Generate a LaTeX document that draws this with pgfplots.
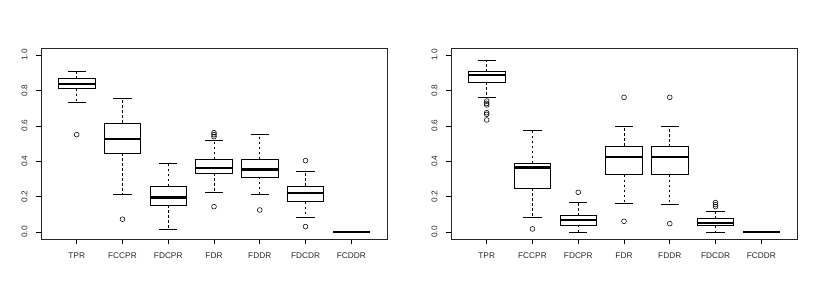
\documentclass[border=0pt]{standalone}
\usepackage{pgfplots}
\pgfplotsset{compat=1.18}
\usepgfplotslibrary{statistics}
\usepackage{fontspec}
\setmainfont{Liberation Sans}
\pgfplotsset{
  boxplot/draw/whisker/.code 2 args={%
    \draw[black, line width=0.6pt, dash pattern=on 2.5pt off 2.5pt] (boxplot cs:#1) -- (boxplot cs:#2);
    \draw[black, line width=0.6pt] (boxplot whisker cs:#2,0) -- (boxplot whisker cs:#2,1);
  },
}
\pgfplotsset{
  rbox/.style={
    width=346pt, height=191pt, scale only axis,
    anchor=south west,
    xmin=0.22, xmax=7.78, ymin=-0.04, ymax=1.04,
    xtick={1,2,3,4,5,6,7},
    xticklabels={TPR,FCCPR,FDCPR,FDR,FDDR,FDCDR,FCDDR},
    ytick={0,0.2,0.4,0.6,0.8,1.0},
    yticklabel style={rotate=90, anchor=south},
    y tick label style={/pgf/number format/fixed, /pgf/number format/fixed zerofill, /pgf/number format/precision=1},
    /pgf/number format/assume math mode=true,
    yticklabel shift=5pt,
    xticklabel shift=5pt,
    tick pos=left, tick align=outside,
    major tick length=5pt,
    tick style={black, line width=0.6pt},
    axis line style={black!85, line width=0.7pt},
    ticklabel style={font=\fontsize{8.3}{9}\selectfont, text=black!85},
    boxplot/draw direction=y,
    boxplot/box extend=0.8,
    boxplot/whisker extend=0.4,
    boxplot/every median/.style={line width=2.4pt, black},
    every axis plot/.append style={black, solid, line width=0.7pt, mark=o, mark size=2.4pt, mark options={solid, line width=0.55pt}},
  }
}
\begin{document}
\begin{tikzpicture}
\useasboundingbox (0pt,0pt) rectangle (817pt,300pt);
\begin{axis}[rbox, at={(41pt,61pt)}]
\addplot[boxplot prepared={draw position=1, lower whisker=0.731, lower quartile=0.810, median=0.838, upper quartile=0.866, upper whisker=0.906}] coordinates {(1,0.550)};
\addplot[boxplot prepared={draw position=2, lower whisker=0.215, lower quartile=0.444, median=0.527, upper quartile=0.616, upper whisker=0.757}] coordinates {(2,0.072)};
\addplot[boxplot prepared={draw position=3, lower whisker=0.013, lower quartile=0.151, median=0.194, upper quartile=0.258, upper whisker=0.390}] coordinates {};
\addplot[boxplot prepared={draw position=4, lower whisker=0.222, lower quartile=0.331, median=0.363, upper quartile=0.412, upper whisker=0.516}] coordinates {(4,0.561) (4,0.550) (4,0.539) (4,0.143)};
\addplot[boxplot prepared={draw position=5, lower whisker=0.215, lower quartile=0.311, median=0.352, upper quartile=0.411, upper whisker=0.552}] coordinates {(5,0.124)};
\addplot[boxplot prepared={draw position=6, lower whisker=0.081, lower quartile=0.171, median=0.220, upper quartile=0.260, upper whisker=0.345}] coordinates {(6,0.403) (6,0.030)};
\addplot[boxplot prepared={draw position=7, lower whisker=0, lower quartile=0, median=0, upper quartile=0, upper whisker=0}] coordinates {};
\end{axis}
\begin{axis}[rbox, at={(451pt,61pt)}]
\addplot[boxplot prepared={draw position=1, lower whisker=0.759, lower quartile=0.846, median=0.889, upper quartile=0.906, upper whisker=0.968}] coordinates {(1,0.740) (1,0.727) (1,0.718) (1,0.674) (1,0.665) (1,0.633)};
\addplot[boxplot prepared={draw position=2, lower whisker=0.085, lower quartile=0.248, median=0.365, upper quartile=0.389, upper whisker=0.574}] coordinates {(2,0.017)};
\addplot[boxplot prepared={draw position=3, lower whisker=0.0, lower quartile=0.040, median=0.066, upper quartile=0.091, upper whisker=0.168}] coordinates {(3,0.224)};
\addplot[boxplot prepared={draw position=4, lower whisker=0.162, lower quartile=0.324, median=0.424, upper quartile=0.486, upper whisker=0.597}] coordinates {(4,0.761) (4,0.060)};
\addplot[boxplot prepared={draw position=5, lower whisker=0.158, lower quartile=0.324, median=0.424, upper quartile=0.482, upper whisker=0.595}] coordinates {(5,0.761) (5,0.047)};
\addplot[boxplot prepared={draw position=6, lower whisker=0.0, lower quartile=0.036, median=0.051, upper quartile=0.075, upper whisker=0.115}] coordinates {(6,0.166) (6,0.154) (6,0.143)};
\addplot[boxplot prepared={draw position=7, lower whisker=0, lower quartile=0, median=0, upper quartile=0, upper whisker=0}] coordinates {};
\end{axis}
\end{tikzpicture}
\end{document}
